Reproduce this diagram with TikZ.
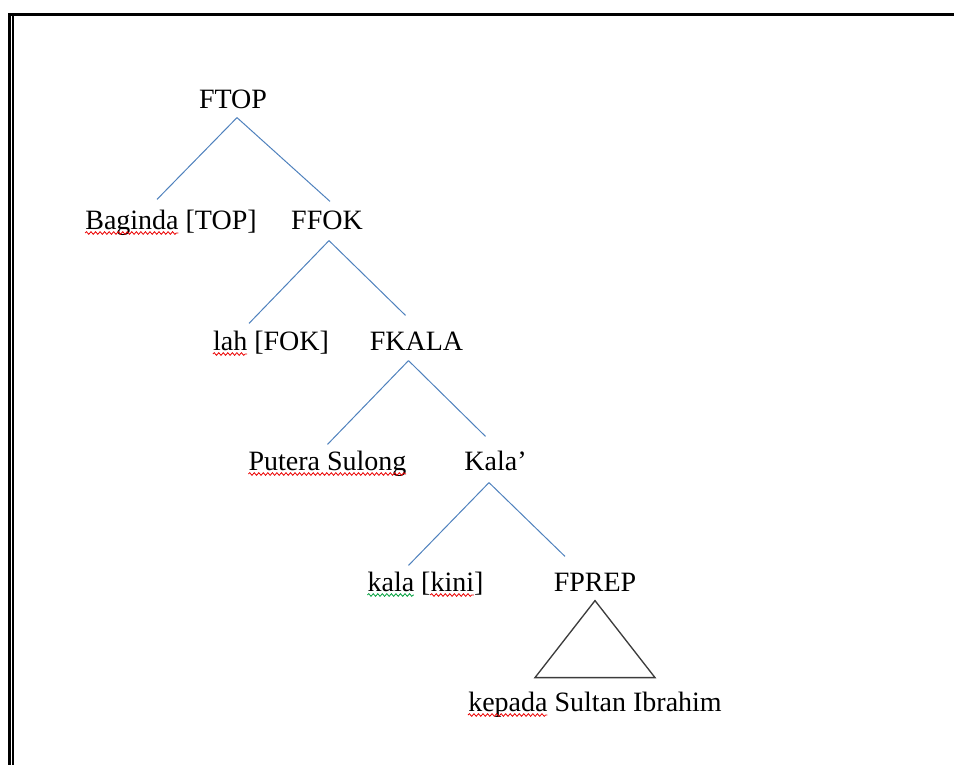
\documentclass[tikz,border=0pt]{standalone}
\usepackage{fontspec}
\setmainfont{Liberation Serif}
\usepackage{tikz}
\usetikzlibrary{calc, positioning, decorations.pathmorphing}

\definecolor{branchblue}{RGB}{79,129,189}
\definecolor{roofgray}{RGB}{60,60,60}
\definecolor{spellred}{RGB}{235,0,0}
\definecolor{grammargreen}{RGB}{0,160,60}

\newcommand{\lblfont}{\fontsize{21}{25}\selectfont}
\newlength{\wBaginda}
\newlength{\wlah}
\newlength{\wPutera}
\newlength{\wkala}
\newlength{\wkalaopen}
\newlength{\wkini}
\newlength{\wkepada}

\tikzset{
	lbl/.style={anchor=base, inner xsep=0pt, inner ysep=3pt, text height=19pt, text depth=4pt, font=\lblfont},
	branch/.style={draw=branchblue, line width=0.75pt},
	roof/.style={draw=roofgray, line width=1pt},
	squig/.style={line width=0.6pt, decorate, decoration={snake, amplitude=1pt, segment length=3.4pt}},
	spellwave/.style={squig, draw=spellred},
	grammarwave/.style={squig, draw=grammargreen},
}

\begin{document}
\settowidth{\wBaginda}{\lblfont Baginda}%
\settowidth{\wlah}{\lblfont lah}%
\settowidth{\wPutera}{\lblfont Putera Sulong}%
\settowidth{\wkala}{\lblfont kala}%
\settowidth{\wkalaopen}{\lblfont kala [}%
\settowidth{\wkini}{\lblfont kini}%
\settowidth{\wkepada}{\lblfont kepada}%
\begin{tikzpicture}[x=0.75pt,y=0.75pt,yscale=-1,xscale=1]
		\useasboundingbox (0,0) rectangle (954,765);

		%Frame
		\draw [line width=1.9pt]  (8,14.5) -- (954,14.5) ;
		\draw [line width=1.9pt]  (9.3,13.5) -- (9.3,765) ;
		\draw [line width=1.2pt]  (12.7,16) -- (12.7,765) ;

		% Text Node
		\node [lbl] (ftop) at (233,108) {FTOP};
		% Text Node
		\node [lbl] (bag) at (171,229) {Baginda [TOP]};
		% Text Node
		\node [lbl] (ffok) at (327,229) {FFOK};
		% Text Node
		\node [lbl] (lah) at (271,350) {lah [FOK]};
		% Text Node
		\node [lbl] (fkala) at (416.5,350) {FKALA};
		% Text Node
		\node [lbl] (putera) at (327.5,470) {Putera Sulong};
		% Text Node
		\node [lbl] (kala) at (495.5,470) {Kala'};
		% Text Node
		\node [lbl] (kalakini) at (425.5,591) {kala [kini]};
		% Text Node
		\node [lbl] (fprep) at (595,591) {FPREP};
		% Text Node
		\node [lbl] (kepada) at (595,711) {kepada Sultan Ibrahim};

		%Straight Lines
		\draw [branch]  ($(ftop.south)+(4,0)$) -- ($(bag.north)+(-14,0)$) ;
		\draw [branch]  ($(ftop.south)+(4,0)$) -- ($(ffok.north)+(3,2)$) ;
		%Straight Lines
		\draw [branch]  ($(ffok.south)+(2,2)$) -- ($(lah.north)+(-22,3)$) ;
		\draw [branch]  ($(ffok.south)+(2,2)$) -- ($(fkala.north)+(-11,-5)$) ;
		%Straight Lines
		\draw [branch]  ($(fkala.south)+(-8,1)$) -- ($(putera.north)+(0,4)$) ;
		\draw [branch]  ($(fkala.south)+(-8,1)$) -- ($(kala.north)+(-10,-4)$) ;
		%Straight Lines
		\draw [branch]  ($(kala.south)+(-6.5,3)$) -- ($(kalakini.north)+(-17,4)$) ;
		\draw [branch]  ($(kala.south)+(-6.5,3)$) -- ($(fprep.north)+(-30,-5)$) ;

		%Shape: Triangle
		\draw [roof]  (fprep.south) -- ++(60,77) -- ++(-120,0) -- cycle ;

		%Curve Lines: spelling marks
		\draw [spellwave]  ($(bag.base west)+(0,4)$) -- ++(\wBaginda,0pt) ;
		\draw [spellwave]  ($(lah.base west)+(0,4)$) -- ++(\wlah,0pt) ;
		\draw [spellwave]  ($(putera.base west)+(0,4)$) -- ++(\wPutera,0pt) ;
		\draw [grammarwave]  ($(kalakini.base west)+(0,4)$) -- ++(\wkala,0pt) ;
		\draw [spellwave]  ($(kalakini.base west)+(0,4)$) ++(\wkalaopen,0pt) -- ++(\wkini,0pt) ;
		\draw [spellwave]  ($(kepada.base west)+(0,4)$) -- ++(\wkepada,0pt) ;

\end{tikzpicture}
\end{document}
